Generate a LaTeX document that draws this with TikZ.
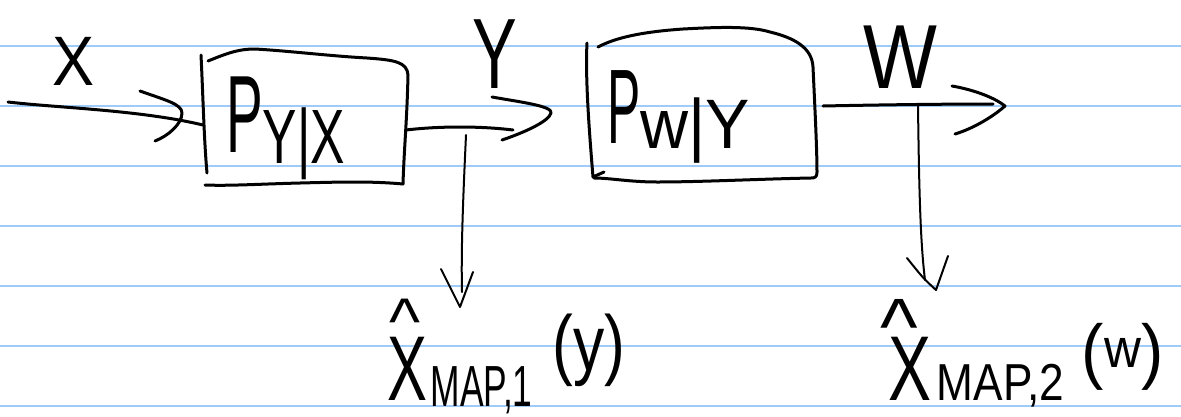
\documentclass[tikz,border=0pt]{standalone}
\usepackage{fontspec}
\usepackage{graphicx}
\newfontfamily\handfont{Liberation Sans}
% horizontally squeezed text at a given size: \hw{x-scale}{size}{text}
\newcommand\hw[3]{\scalebox{#1}[1]{\fontsize{#2}{#2}\selectfont #3}}
\definecolor{ruleblue}{RGB}{158,203,248}
\tikzset{
  pen/.style={line width=3pt, line cap=round, line join=round, black},
  thinpen/.style={line width=2pt, line cap=round, line join=round, black},
  ruling/.style={line width=2pt, ruleblue},
  lbl/.style={anchor=base west, inner sep=0pt, outer sep=0pt, font=\handfont}
}
\begin{document}
\begin{tikzpicture}[x=1pt,y=-1pt]
% paper
\fill[white] (0,0) rectangle (1181,416);
\useasboundingbox (0,0) rectangle (1181,416);
\foreach \k in {0,...,6} \draw[ruling] (0,{46+60*\k}) -- (1181,{46+60*\k});

% connector end points
\coordinate (src)   at (8,102);
\coordinate (b1in)  at (203,125);
\coordinate (b1out) at (406,130);
\coordinate (yend)  at (513,130);
\coordinate (tap1)  at (466,135);
\coordinate (shaft1) at (462,292);
\coordinate (tip1)  at (460,307);
\coordinate (b2out) at (823,106);
\coordinate (wend)  at (993,104);
\coordinate (tap2)  at (918,106);
\coordinate (shaft2) at (925,280);
\coordinate (tip2)  at (936,290);

% channel P_{Y|X}
\draw[pen] (201,55) .. controls (203,95) and (204,140) .. (207,173);
\draw[pen] (208,61) .. controls (230,52) and (240,49) .. (255,49)
  .. controls (290,51) and (330,56) .. (367,58)
  .. controls (395,60) and (407,62) .. (408,75)
  .. controls (407,120) and (404,150) .. (403,184)
  .. controls (370,181) and (340,182) .. (300,183)
  .. controls (260,184) and (230,186) .. (205,185);

% channel P_{W|Y}
\draw[pen] (587,43) .. controls (585,80) and (590,140) .. (593,177) -- (604,172);
\draw[pen] (598,47) .. controls (615,38) and (640,32) .. (683,29)
  .. controls (720,27) and (750,26) .. (770,32)
  .. controls (795,38) and (812,48) .. (813,67)
  .. controls (815,110) and (817,150) .. (817,172)
  .. controls (817,177) and (815,178) .. (811,178)
  .. controls (760,179) and (700,182) .. (657,182)
  .. controls (630,182) and (610,178) .. (594,178);

% X -> first channel
\draw[pen] (src) .. controls (60,108) and (140,110) .. (b1in);
\draw[pen] (140,91) .. controls (165,100) and (182,104) .. (182,113)
  .. controls (182,124) and (168,136) .. (155,141);

% Y -> second channel
\draw[pen] (b1out) .. controls (440,126) and (480,126) .. (yend);
\draw[pen] (492,97) .. controls (520,102) and (553,106) .. (551,113)
  .. controls (549,122) and (520,134) .. (502,140);

% W out
\draw[pen] (b2out) .. controls (870,105) and (940,104) .. (wend);
\draw[pen] (952,86) .. controls (975,90) and (995,98) .. (1005,106)
  .. controls (995,115) and (975,128) .. (955,134);

% taps down to the estimators
\draw[thinpen] (tap1) .. controls (463,200) and (461,250) .. (shaft1);
\draw[thinpen] (441,269) .. controls (450,288) .. (tip1) .. controls (466,290) .. (473,272);
\draw[thinpen] (tap2) .. controls (919,180) and (920,240) .. (shaft2);
\draw[thinpen] (907,258) .. controls (923,278) .. (tip2) .. controls (942,273) .. (948,256);

% labels
\node[lbl] (lx) at (52,85) {\hw{0.9}{70}{X}};
\node[lbl] (ly) at (472,88) {\hw{0.67}{100}{Y}};
\node[lbl] (lw) at (863,88) {\hw{0.86}{91}{W}};
\node[lbl] (p1) at (226,152) {\hw{0.5}{110}{P}\raisebox{-11pt}{\hw{0.67}{77}{Y|X}}};
\node[lbl] (p2) at (607,143) {\hw{0.47}{106}{P}\raisebox{-5pt}{\hw{0.95}{70}{w|Y}}};
\node[lbl] (e1) at (387,400) {\rlap{\hspace{2pt}\raisebox{56pt}{\fontsize{66}{66}\selectfont\textasciicircum}}\hw{0.65}{92}{X}\hspace{4pt}\raisebox{-6pt}{\hw{0.61}{58}{MAP,1}}\hspace{20pt}\raisebox{30pt}{\hw{0.8}{78}{(y)}}};
\node[lbl] (e2) at (888,400) {\rlap{\hspace{-8pt}\raisebox{46pt}{\fontsize{80}{80}\selectfont\textasciicircum}}\hw{0.7}{92}{X}\hspace{6pt}\hw{0.85}{52}{MAP,2}\hspace{18pt}\raisebox{25pt}{\hw{0.93}{72}{(\raisebox{8pt}{\fontsize{55}{55}\selectfont w})}}};
\end{tikzpicture}
\end{document}
